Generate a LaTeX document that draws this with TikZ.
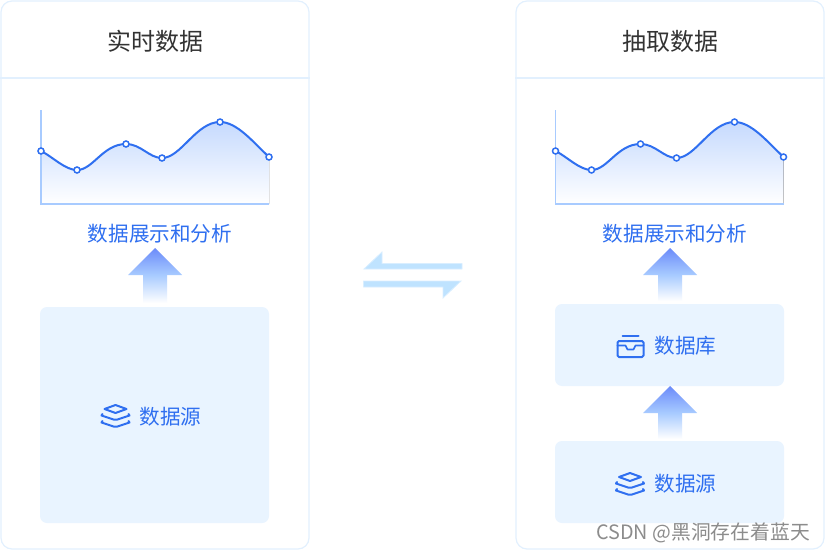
\documentclass[tikz,border=0pt]{standalone}
\usepackage{fontspec}
\setmainfont{Noto Sans CJK SC}
\definecolor{brandblue}{HTML}{2F6FF0}
\definecolor{panelline}{HTML}{E2F0FE}
\definecolor{boxfill}{HTML}{E9F4FF}
\definecolor{axisblue}{HTML}{A8CBFF}
\definecolor{tipblue}{HTML}{6B8BFA}
\definecolor{chartblue}{HTML}{C6DAFE}
\definecolor{swapblue}{HTML}{BFE3FF}
\definecolor{titlegray}{HTML}{333333}
\tikzset{
  panel/.style={draw=panelline,line width=1.2pt,fill=white,rounded corners=11pt,minimum width=308pt,minimum height=548pt,inner sep=0pt},
  titletext/.style={font=\fontsize{24pt}{28pt}\selectfont,text=titlegray,inner sep=0pt},
  labeltext/.style={font=\fontsize{20.6pt}{24pt}\selectfont,text=brandblue,inner sep=0pt},
  databox/.style={fill=boxfill,rounded corners=7pt,inner sep=0pt,minimum width=229pt},
  iconline/.style={draw=brandblue,line width=2pt,line join=round,line cap=round},
  curveline/.style={draw=brandblue,line width=2pt},
  dot/.style={circle,draw=brandblue,fill=white,line width=1.5pt,minimum size=6pt,inner sep=0pt},
  swaparrow/.style={fill=swapblue,draw=swapblue!60,line width=.8pt,line join=miter},
  pics/uparrow/.style={code={
    \shade[top color=axisblue,bottom color=white] (-12,27) rectangle (12,#1);
    \shade[top color=tipblue,bottom color=axisblue] (0,0) -- (27,27) -- (-27,27) -- cycle;
  }},
  pics/layers/.style={code={
    \draw[iconline] (0,-11) -- (11,-7) -- (0,-3) -- (-11,-7) -- cycle;
    \draw[iconline] (-13,-2) -- (-14,-.5) -- (-2,3.5) -- (2,3.5) -- (14,-.5) -- (13,-2);
    \draw[iconline] (-13,5) -- (-14,6.5) -- (-2,10.5) -- (2,10.5) -- (14,6.5) -- (13,5);
  }},
  pics/tray/.style={code={
    \draw[iconline] (-8,-10) -- (8,-10);
    \draw[iconline,rounded corners=1.5pt] (-13,-5) rectangle (13,11);
    \draw[iconline,line width=1.6pt] (-13,-.5) -- (-5,-.5) -- (-3,3.5) -- (3,3.5) -- (5,-.5) -- (13,-.5);
  }},
  pics/chart/.style={code={
    \fill[top color=chartblue,bottom color=white]
      (0,41) .. controls (12,47) and (24,60) .. (36,60)
      .. controls (52,60) and (62,34) .. (85,34)
      .. controls (100,34) and (108,48) .. (121,48)
      .. controls (140,48) and (155,12) .. (179,12)
      .. controls (196,12) and (212,32) .. (228,47)
      -- (228,94) -- (0,94) -- cycle;
    \draw[axisblue,line width=1.5pt] (0,0) -- (0,94) -- (228,94);
    \draw[curveline] (0,41) .. controls (12,47) and (24,60) .. (36,60)
      .. controls (52,60) and (62,34) .. (85,34)
      .. controls (100,34) and (108,48) .. (121,48)
      .. controls (140,48) and (155,12) .. (179,12)
      .. controls (196,12) and (212,32) .. (228,47);
    \foreach \px/\py in {0/41,36/60,85/34,121/48,179/12,228/47}
      \node[dot] at (\px,\py) {};
  }}
}
\begin{document}
\begin{tikzpicture}[x=1pt,y=-1pt]
\useasboundingbox (0,0) rectangle (825,551);
% panels
\node[panel] (panelL) at (155,275) {};
\node[panel] (panelR) at (670,275) {};
\draw[panelline,line width=1.2pt] (panelL.west |- 0,78) -- (panelL.east |- 0,78);
\draw[panelline,line width=1.2pt] (panelR.west |- 0,78) -- (panelR.east |- 0,78);
\node[titletext] (titleL) at (155,41.5) {实时数据};
\node[titletext] (titleR) at (670,41.5) {抽取数据};
% charts
\pic at (41,110) {chart};
\pic at (555.5,110) {chart};
\node[labeltext] (showL) at (160,233.5) {数据展示和分析};
\node[labeltext] (showR) at (675,233.5) {数据展示和分析};
% boxes
\node[databox,minimum height=216pt] (srcL) at (154.5,415) {};
\node[databox,minimum height=82pt] (dbR) at (669.5,345) {};
\node[databox,minimum height=82pt] (srcR) at (669.5,482) {};
\node[labeltext] (srcLtext) at (170.5,416.5) {数据源};
\node[labeltext] (dbRtext) at (685.5,345.5) {数据库};
\node[labeltext] (srcRtext) at (685.5,483.5) {数据源};
\pic at (115.5,416) {layers};
\pic at (630.5,346) {tray};
\pic at (630,484) {layers};
% arrows
\pic at (155,248) {uparrow=55};
\pic at (670,248) {uparrow=53};
\pic at (670,386) {uparrow=53};
% exchange
\fill[swaparrow] (364,269) -- (382,252) -- (382,263.5) -- (462,263.5) -- (462,269) -- cycle;
\fill[swaparrow] (461,281) -- (443,298) -- (443,287) -- (363.5,287) -- (363.5,281) -- cycle;
% watermark
\node[font=\fontsize{19.8pt}{24pt}\selectfont,text=gray!90,inner sep=0pt,anchor=east] (mark) at (810,532.5) {CSDN @黑洞存在着蓝天};
\end{tikzpicture}
\end{document}
